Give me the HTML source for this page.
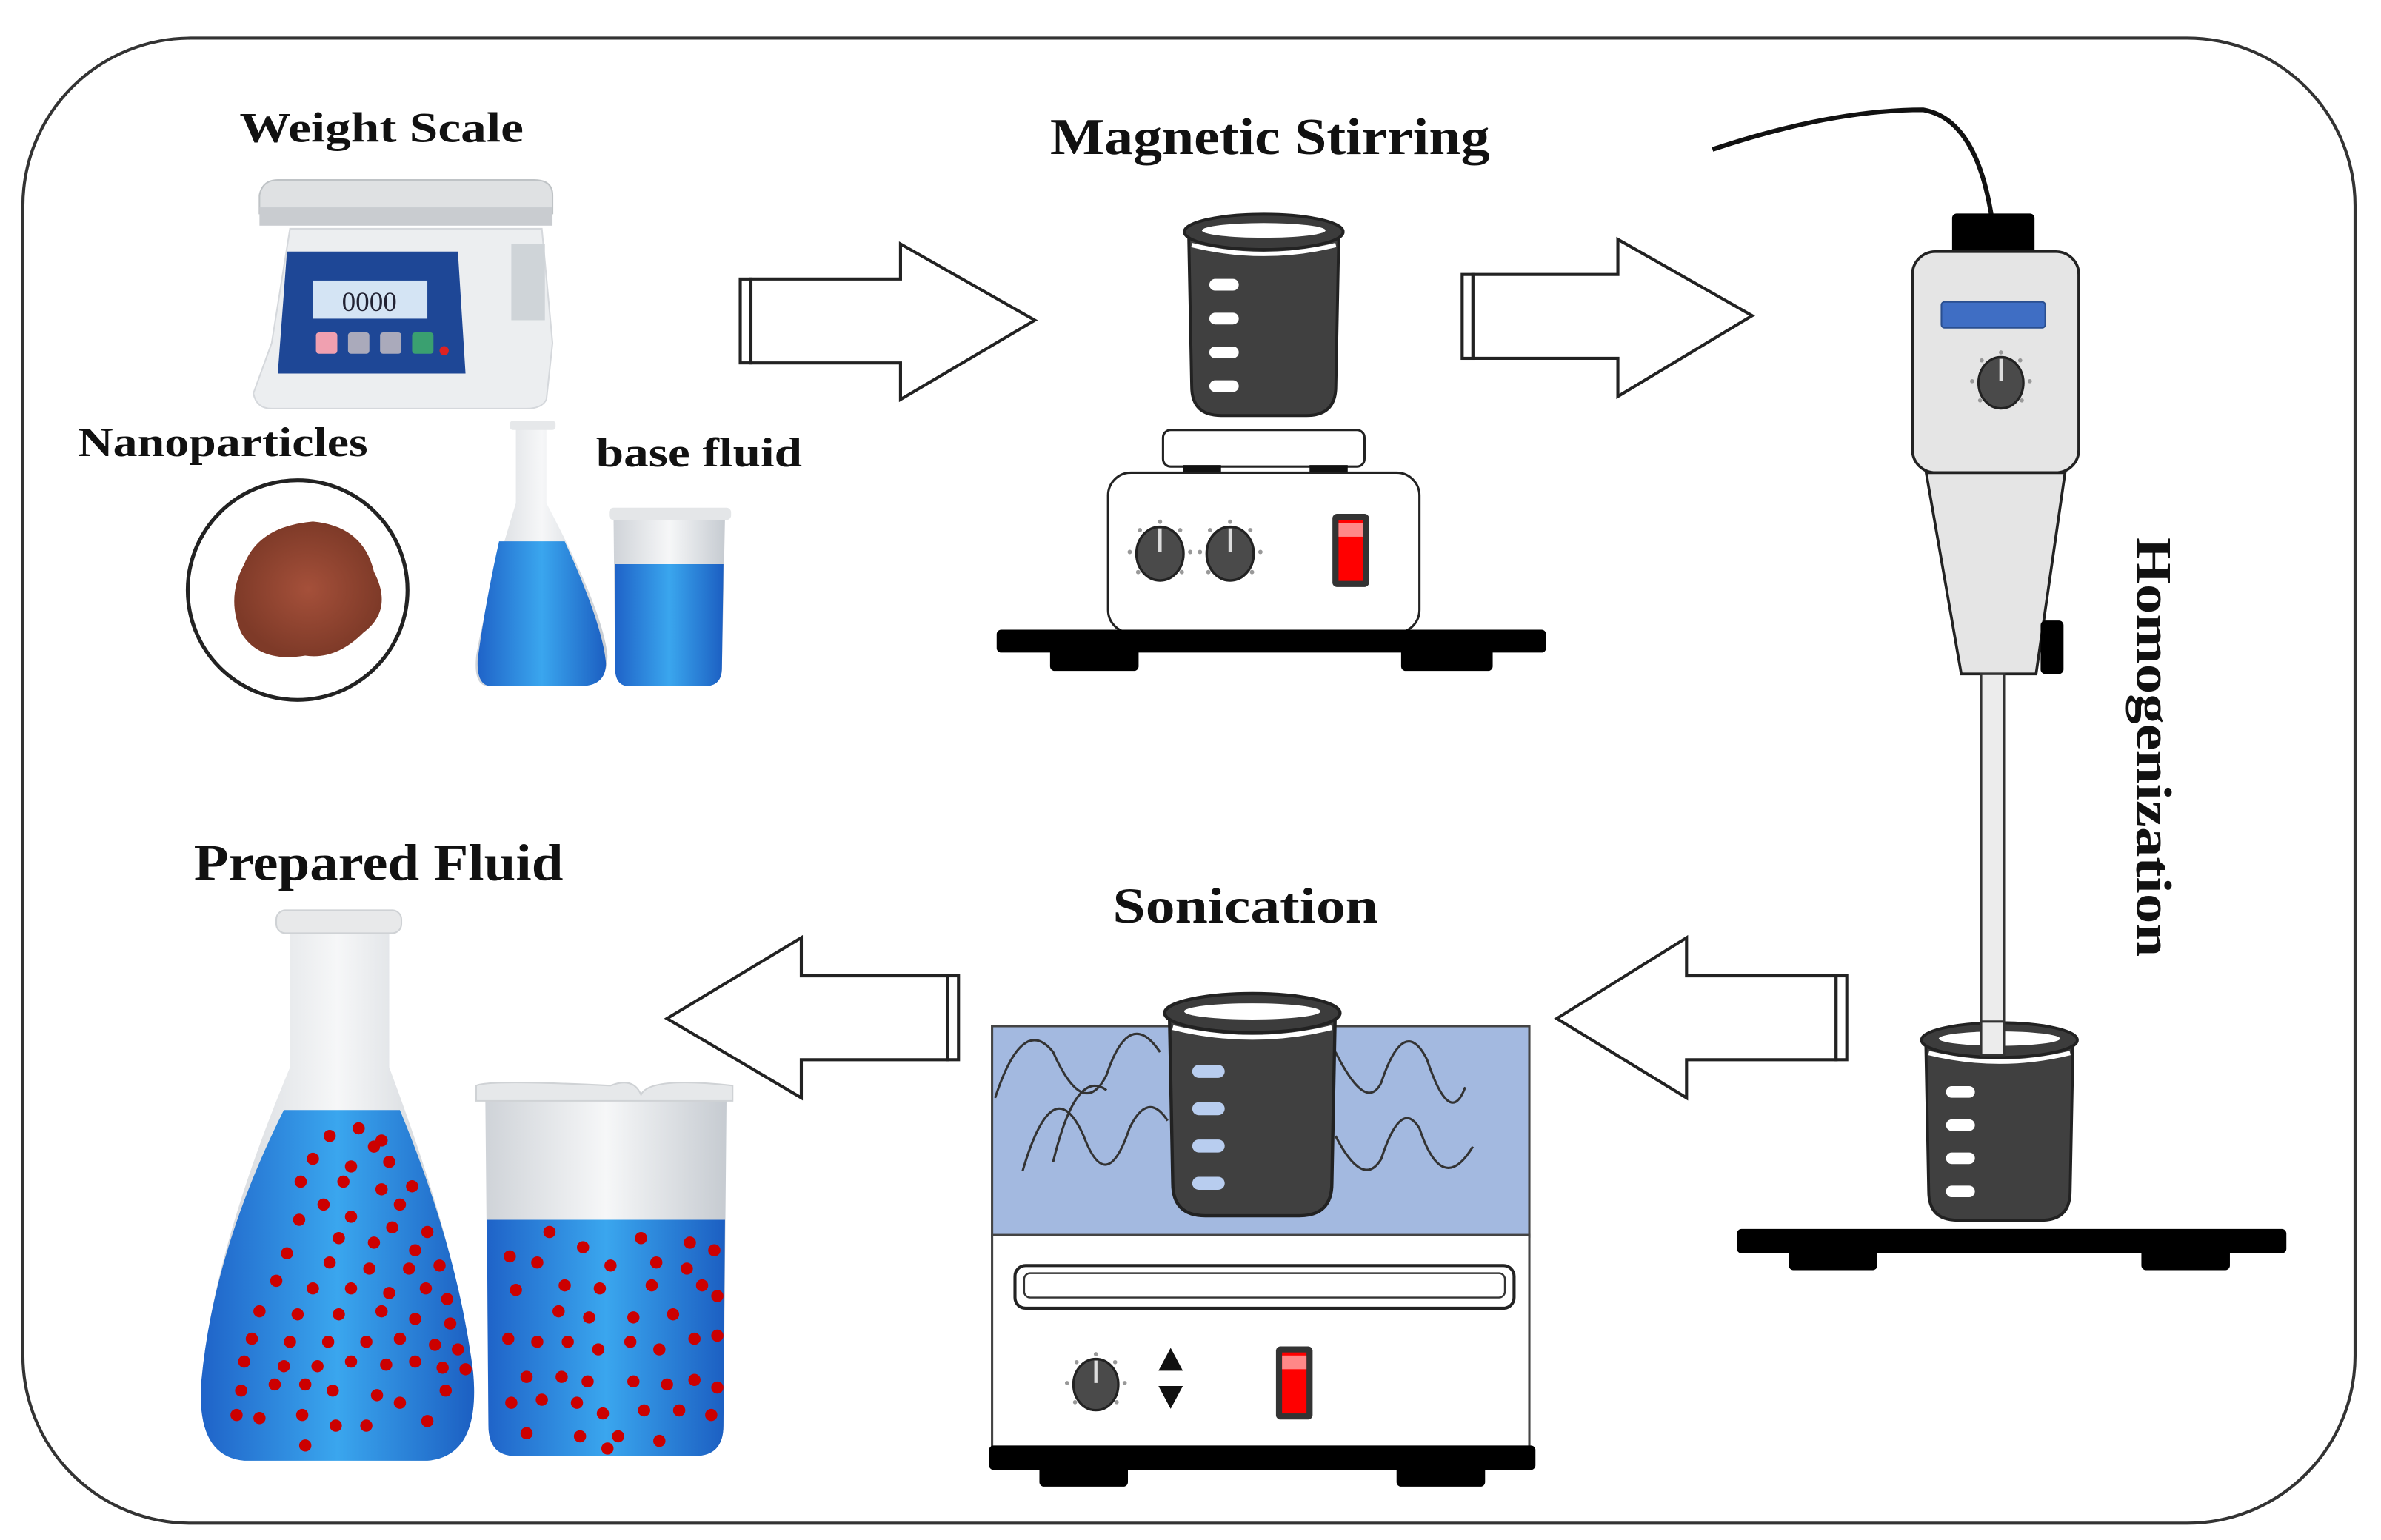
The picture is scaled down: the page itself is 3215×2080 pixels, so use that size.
<!DOCTYPE html>
<html><head><meta charset="utf-8"><style>
html,body{margin:0;padding:0;background:#fff;}
svg{display:block;}
text{font-family:"Liberation Serif",serif;font-weight:bold;fill:#111;}
</style></head><body>
<svg width="3215" height="2080" viewBox="0 0 1560 1010" preserveAspectRatio="none" xmlns="http://www.w3.org/2000/svg">
<defs>
<linearGradient id="blue" x1="0" x2="1" y1="0" y2="0"><stop offset="0" stop-color="#1f63c8"/><stop offset="0.5" stop-color="#3aa6ee"/><stop offset="1" stop-color="#1c5fc2"/></linearGradient>
<linearGradient id="glass" x1="0" x2="1"><stop offset="0" stop-color="#cfd3d8"/><stop offset="0.5" stop-color="#f6f7f8"/><stop offset="1" stop-color="#c6cbd1"/></linearGradient>
<radialGradient id="pow" cx="0.5" cy="0.5" r="0.5"><stop offset="0" stop-color="#a5503a"/><stop offset="1" stop-color="#7e3a28"/></radialGradient>
<clipPath id="liq">
<path d="M186 728 L262 728 Q300 820 310 900 Q315 955 280 958 L160 958 Q128 955 132 905 Q140 820 186 728 Z"/>
<path d="M319 800 L475 800 L474 935 Q474 955 455 955 L338 955 Q320 955 320 935 Z"/>
</clipPath>
<symbol id="beaker" viewBox="0 0 110 140">
<path d="M4 16 L106 16 L104 118 Q104 138 84 138 L26 138 Q6 138 6 118 Z" fill="#404040" stroke="#222" stroke-width="2"/>
<ellipse cx="55" cy="13" rx="54" ry="12" fill="#3c3c3c" stroke="#222" stroke-width="2"/>
<ellipse cx="55" cy="12" rx="42" ry="5" fill="#fff"/>
<path d="M6 22 Q55 34 104 22" stroke="#fff" stroke-width="3" fill="none"/>
<rect x="18" y="45" width="20" height="8" rx="4" fill="#fff"/>
<rect x="18" y="68" width="20" height="8" rx="4" fill="#fff"/>
<rect x="18" y="91" width="20" height="8" rx="4" fill="#fff"/>
<rect x="18" y="114" width="20" height="8" rx="4" fill="#fff"/>
</symbol>
<symbol id="beakerb" viewBox="0 0 110 140">
<path d="M4 16 L106 16 L104 118 Q104 138 84 138 L26 138 Q6 138 6 118 Z" fill="#404040" stroke="#222" stroke-width="2"/>
<ellipse cx="55" cy="13" rx="54" ry="12" fill="#3c3c3c" stroke="#222" stroke-width="2"/>
<ellipse cx="55" cy="12" rx="42" ry="5" fill="#fff"/>
<path d="M6 22 Q55 34 104 22" stroke="#fff" stroke-width="3" fill="none"/>
<rect x="18" y="45" width="20" height="8" rx="4" fill="#b8cdef"/>
<rect x="18" y="68" width="20" height="8" rx="4" fill="#b8cdef"/>
<rect x="18" y="91" width="20" height="8" rx="4" fill="#b8cdef"/>
<rect x="18" y="114" width="20" height="8" rx="4" fill="#b8cdef"/>
</symbol>
<symbol id="knob" viewBox="-20 -20 40 40">
<g fill="#999"><circle cx="0" cy="-18" r="1.3"/><circle cx="-12" cy="-13" r="1.3"/><circle cx="12" cy="-13" r="1.3"/><circle cx="-18" cy="0" r="1.3"/><circle cx="18" cy="0" r="1.3"/><circle cx="-13" cy="12" r="1.3"/><circle cx="13" cy="12" r="1.3"/></g>
<ellipse cx="0" cy="1" rx="14" ry="16" fill="#4a4a4a" stroke="#222" stroke-width="1.5"/>
<line x1="0" y1="-14" x2="0" y2="0" stroke="#ddd" stroke-width="2"/>
</symbol>
<symbol id="switch" viewBox="0 0 26 50">
<rect x="1" y="1" width="24" height="48" rx="3" fill="#333"/>
<rect x="5" y="5" width="16" height="40" fill="#f00"/>
<rect x="5" y="7" width="16" height="9" fill="#f88"/>
</symbol>
</defs>

<rect x="15" y="25" width="1528" height="974" rx="110" fill="#fff" stroke="#333" stroke-width="2"/>

<text x="250" y="93" font-size="28" text-anchor="middle" textLength="186" lengthAdjust="spacingAndGlyphs">Weight Scale</text>
<text x="832" y="101" font-size="34" text-anchor="middle" textLength="288" lengthAdjust="spacingAndGlyphs">Magnetic Stirring</text>
<text x="146" y="299" font-size="27" text-anchor="middle" textLength="190" lengthAdjust="spacingAndGlyphs">Nanoparticles</text>
<text x="458" y="306" font-size="27" text-anchor="middle" textLength="135" lengthAdjust="spacingAndGlyphs">base fluid</text>
<text x="248" y="577" font-size="34" text-anchor="middle" textLength="242" lengthAdjust="spacingAndGlyphs">Prepared Fluid</text>
<text x="816" y="605" font-size="33" text-anchor="middle" textLength="174" lengthAdjust="spacingAndGlyphs">Sonication</text>
<text transform="translate(1400,490) rotate(90)" font-size="33" text-anchor="middle" textLength="275" lengthAdjust="spacingAndGlyphs">Homogenization</text>

<!-- weight scale -->
<path d="M178 225 L190 150 L355 150 L362 225 L358 262 Q355 268 345 268 L178 268 Q168 268 166 258 Z" fill="#eceef0" stroke="#d5d8dc"/>
<path d="M170 128 Q172 118 182 118 L350 118 Q362 118 362 128 L362 140 L170 140 Z" fill="#dfe1e3" stroke="#bfc3c6"/>
<rect x="170" y="136" width="192" height="12" fill="#c9ccd0"/>
<path d="M188 165 L300 165 L305 245 L182 245 Z" fill="#1e4796"/>
<rect x="205" y="184" width="75" height="25" fill="#d4e4f4"/>
<text x="242" y="204" font-size="18" text-anchor="middle" style="font-weight:normal;fill:#223">0000</text>
<rect x="207" y="218" width="14" height="14" rx="2" fill="#f0a0b0"/>
<rect x="228" y="218" width="14" height="14" rx="2" fill="#aab"/>
<rect x="249" y="218" width="14" height="14" rx="2" fill="#aab"/>
<rect x="270" y="218" width="14" height="14" rx="2" fill="#3aa070"/>
<circle cx="291" cy="230" r="3" fill="#d22"/>
<rect x="335" y="160" width="22" height="50" fill="#cfd4d8"/>

<circle cx="195" cy="387" r="72" fill="#fff" stroke="#222" stroke-width="2.5"/>
<path d="M160 370 Q170 345 205 342 Q238 345 245 375 Q258 400 238 415 Q220 433 200 430 Q170 435 158 415 Q148 392 160 370 Z" fill="url(#pow)"/>

<path d="M338 280 L358 280 L358 330 Q395 400 398 430 Q398 450 380 450 L320 450 Q310 450 312 430 Q318 395 338 330 Z" fill="url(#glass)"/>
<path d="M327 355 L370 355 Q395 410 397 435 Q397 450 380 450 L322 450 Q312 450 313 432 Q318 395 327 355 Z" fill="url(#blue)"/>
<rect x="334" y="276" width="30" height="6" rx="2" fill="#e6e8ea"/>
<path d="M402 340 L475 340 L473 438 Q473 450 462 450 L412 450 Q403 450 403 438 Z" fill="url(#glass)"/>
<path d="M403 370 L474 370 L473 438 Q473 450 462 450 L412 450 Q403 450 403 438 Z" fill="url(#blue)"/>
<rect x="399" y="333" width="80" height="8" rx="3" fill="#e4e6e8"/>

<g fill="#fff" stroke="#222" stroke-width="2">
<path d="M492 183 L590 183 L590 160 L678 210 L590 262 L590 238 L492 238 Z"/>
<rect x="485" y="183" width="7" height="55"/>
<path d="M965 180 L1060 180 L1060 157 L1148 207 L1060 260 L1060 235 L965 235 Z"/>
<rect x="958" y="180" width="7" height="55"/>
<path d="M1203 640 L1105 640 L1105 615 L1020 668 L1105 720 L1105 695 L1203 695 Z"/>
<rect x="1203" y="640" width="7" height="55"/>
<path d="M621 640 L525 640 L525 615 L437 668 L525 720 L525 695 L621 695 Z"/>
<rect x="621" y="640" width="7" height="55"/>
</g>

<use href="#beaker" x="775" y="137" width="106" height="140"/>
<rect x="762" y="282" width="132" height="24" rx="5" fill="#fff" stroke="#222" stroke-width="1.5"/>
<rect x="775" y="305" width="25" height="6" fill="#111"/>
<rect x="858" y="305" width="25" height="6" fill="#111"/>
<rect x="726" y="310" width="204" height="105" rx="15" fill="#fff" stroke="#222" stroke-width="1.5"/>
<use href="#knob" x="738" y="340" width="44" height="44"/>
<use href="#knob" x="784" y="340" width="44" height="44"/>
<use href="#switch" x="872" y="336" width="26" height="50"/>
<rect x="653" y="413" width="360" height="15" rx="3" fill="#000"/>
<rect x="688" y="425" width="58" height="15" rx="3" fill="#000"/>
<rect x="918" y="425" width="60" height="15" rx="3" fill="#000"/>

<path d="M1122 98 Q1200 72 1260 72 Q1295 78 1305 143" fill="none" stroke="#111" stroke-width="3"/>
<rect x="1279" y="140" width="54" height="27" rx="3" fill="#000"/>
<rect x="1253" y="165" width="109" height="145" rx="15" fill="#e5e5e5" stroke="#222" stroke-width="1.8"/>
<rect x="1272" y="198" width="68" height="17" rx="2" fill="#3f6ec4" stroke="#2a4f90"/>
<use href="#knob" x="1290" y="229" width="42" height="42"/>
<path d="M1262 310 L1353 310 L1334 442 L1285 442 Z" fill="#e5e5e5" stroke="#222" stroke-width="1.8"/>
<rect x="1337" y="407" width="15" height="35" rx="3" fill="#000"/>
<rect x="1298" y="442" width="15" height="250" fill="#ececec" stroke="#333" stroke-width="1.5"/>
<use href="#beaker" x="1258" y="667" width="104" height="138"/>
<rect x="1298" y="670" width="15" height="22" fill="#ececec" stroke="#333" stroke-width="1.5"/>
<rect x="1138" y="806" width="360" height="16" rx="3" fill="#000"/>
<rect x="1172" y="818" width="58" height="15" rx="3" fill="#000"/>
<rect x="1403" y="818" width="58" height="15" rx="3" fill="#000"/>

<rect x="650" y="673" width="352" height="138" fill="#a3b9e0" stroke="#444" stroke-width="1.5"/>
<g fill="none" stroke="#333" stroke-width="1.5">
<path d="M652 720 Q670 665 690 690 Q710 735 725 705 Q740 660 760 690"/>
<path d="M670 768 Q690 700 710 745 Q725 785 740 740 Q752 715 765 735"/>
<path d="M690 762 Q705 700 725 715"/>
<path d="M875 690 Q895 730 905 710 Q920 665 935 695 Q950 740 960 713"/>
<path d="M875 745 Q893 780 905 760 Q918 720 930 740 Q945 785 965 752"/>
</g>
<use href="#beakerb" x="762" y="645" width="117" height="160"/>
<rect x="650" y="810" width="352" height="140" fill="#fff" stroke="#444" stroke-width="1.5"/>
<rect x="665" y="830" width="327" height="28" rx="7" fill="#fff" stroke="#222" stroke-width="2"/>
<rect x="671" y="835" width="315" height="16" rx="4" fill="#fff" stroke="#333" stroke-width="1.2"/>
<use href="#knob" x="697" y="886" width="42" height="42"/>
<path d="M759 899 L767 884 L775 899 Z M759 909 L767 924 L775 909 Z" fill="#111"/>
<use href="#switch" x="835" y="882" width="26" height="50"/>
<rect x="648" y="948" width="358" height="16" rx="3" fill="#000"/>
<rect x="681" y="960" width="58" height="15" rx="3" fill="#000"/>
<rect x="915" y="960" width="58" height="15" rx="3" fill="#000"/>

<path d="M190 610 L255 610 L255 700 Q300 820 310 900 Q315 955 280 958 L160 958 Q128 955 132 905 Q140 820 190 700 Z" fill="url(#glass)"/>
<path d="M186 728 L262 728 Q300 820 310 900 Q315 955 280 958 L160 958 Q128 955 132 905 Q140 820 186 728 Z" fill="url(#blue)"/>
<rect x="181" y="597" width="82" height="15" rx="6" fill="#e8e9ea" stroke="#cfd2d5"/>
<path d="M318 722 L476 722 L474 935 Q474 955 455 955 L338 955 Q320 955 320 935 Z" fill="url(#glass)"/>
<path d="M319 800 L475 800 L474 935 Q474 955 455 955 L338 955 Q320 955 320 935 Z" fill="url(#blue)"/>
<path d="M312 712 Q320 708 400 712 Q415 706 420 718 Q425 706 480 712 L480 722 L312 722 Z" fill="#e6e8ea" stroke="#cfd2d5"/>
<g fill="#c00" clip-path="url(#liq)">
<circle cx="216" cy="745" r="4"/><circle cx="235" cy="740" r="4"/><circle cx="250" cy="748" r="4"/><circle cx="205" cy="760" r="4"/><circle cx="230" cy="765" r="4"/><circle cx="255" cy="762" r="4"/><circle cx="245" cy="752" r="4"/>
<circle cx="197" cy="775" r="4"/><circle cx="225" cy="775" r="4"/><circle cx="250" cy="780" r="4"/><circle cx="270" cy="778" r="4"/><circle cx="262" cy="790" r="4"/><circle cx="212" cy="790" r="4"/>
<circle cx="196" cy="800" r="4"/><circle cx="230" cy="798" r="4"/><circle cx="257" cy="805" r="4"/><circle cx="280" cy="808" r="4"/><circle cx="222" cy="812" r="4"/><circle cx="245" cy="815" r="4"/><circle cx="272" cy="820" r="4"/>
<circle cx="188" cy="822" r="4"/><circle cx="216" cy="828" r="4"/><circle cx="242" cy="832" r="4"/><circle cx="268" cy="832" r="4"/><circle cx="288" cy="830" r="4"/>
<circle cx="181" cy="840" r="4"/><circle cx="205" cy="845" r="4"/><circle cx="230" cy="845" r="4"/><circle cx="255" cy="848" r="4"/><circle cx="279" cy="845" r="4"/><circle cx="293" cy="852" r="4"/>
<circle cx="170" cy="860" r="4"/><circle cx="195" cy="862" r="4"/><circle cx="222" cy="862" r="4"/><circle cx="250" cy="860" r="4"/><circle cx="272" cy="865" r="4"/><circle cx="295" cy="868" r="4"/>
<circle cx="165" cy="878" r="4"/><circle cx="190" cy="880" r="4"/><circle cx="215" cy="880" r="4"/><circle cx="240" cy="880" r="4"/><circle cx="262" cy="878" r="4"/><circle cx="285" cy="882" r="4"/><circle cx="300" cy="885" r="4"/>
<circle cx="160" cy="893" r="4"/><circle cx="186" cy="896" r="4"/><circle cx="208" cy="896" r="4"/><circle cx="230" cy="893" r="4"/><circle cx="253" cy="895" r="4"/><circle cx="272" cy="893" r="4"/><circle cx="290" cy="897" r="4"/><circle cx="305" cy="898" r="4"/>
<circle cx="158" cy="912" r="4"/><circle cx="180" cy="908" r="4"/><circle cx="200" cy="908" r="4"/><circle cx="218" cy="912" r="4"/><circle cx="247" cy="915" r="4"/><circle cx="262" cy="920" r="4"/><circle cx="292" cy="912" r="4"/>
<circle cx="170" cy="930" r="4"/><circle cx="198" cy="928" r="4"/><circle cx="220" cy="935" r="4"/><circle cx="240" cy="935" r="4"/><circle cx="280" cy="932" r="4"/><circle cx="200" cy="948" r="4"/><circle cx="155" cy="928" r="4"/>
<circle cx="360" cy="808" r="4"/><circle cx="382" cy="818" r="4"/><circle cx="420" cy="812" r="4"/><circle cx="452" cy="815" r="4"/><circle cx="468" cy="820" r="4"/><circle cx="334" cy="824" r="4"/><circle cx="352" cy="828" r="4"/><circle cx="400" cy="830" r="4"/><circle cx="430" cy="828" r="4"/><circle cx="450" cy="832" r="4"/>
<circle cx="338" cy="846" r="4"/><circle cx="370" cy="843" r="4"/><circle cx="393" cy="845" r="4"/><circle cx="427" cy="843" r="4"/><circle cx="460" cy="843" r="4"/><circle cx="470" cy="850" r="4"/><circle cx="366" cy="860" r="4"/><circle cx="386" cy="864" r="4"/><circle cx="415" cy="864" r="4"/><circle cx="441" cy="862" r="4"/>
<circle cx="333" cy="878" r="4"/><circle cx="352" cy="880" r="4"/><circle cx="372" cy="880" r="4"/><circle cx="413" cy="880" r="4"/><circle cx="432" cy="885" r="4"/><circle cx="455" cy="878" r="4"/><circle cx="470" cy="876" r="4"/><circle cx="392" cy="885" r="4"/>
<circle cx="345" cy="903" r="4"/><circle cx="368" cy="903" r="4"/><circle cx="385" cy="906" r="4"/><circle cx="415" cy="906" r="4"/><circle cx="437" cy="908" r="4"/><circle cx="455" cy="905" r="4"/><circle cx="470" cy="910" r="4"/>
<circle cx="335" cy="920" r="4"/><circle cx="355" cy="918" r="4"/><circle cx="378" cy="920" r="4"/><circle cx="395" cy="927" r="4"/><circle cx="422" cy="925" r="4"/><circle cx="445" cy="925" r="4"/><circle cx="466" cy="928" r="4"/>
<circle cx="345" cy="940" r="4"/><circle cx="380" cy="942" r="4"/><circle cx="405" cy="942" r="4"/><circle cx="432" cy="945" r="4"/><circle cx="398" cy="950" r="4"/>
</g>
</svg>
</body></html>
